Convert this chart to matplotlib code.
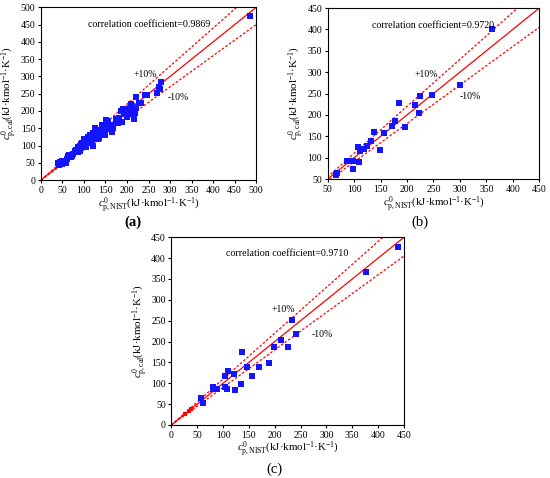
import matplotlib
matplotlib.use("Agg")
import matplotlib.pyplot as plt

plt.rcParams.update(
    {
        "font.family": "Liberation Serif",
        "mathtext.fontset": "custom",
        "mathtext.rm": "Liberation Serif",
        "mathtext.it": "Liberation Serif:italic",
        "mathtext.bf": "Liberation Serif:bold",
        "font.size": 7,
        "xtick.labelsize": 7,
        "ytick.labelsize": 7,
        "xtick.major.size": 2.5,
        "ytick.major.size": 2.5,
        "xtick.major.pad": 1.5,
        "ytick.major.pad": 1.5,
        "axes.linewidth": 0.8,
    }
)

# panel (a): NIST vs calculated
a_nist = [40, 42, 44, 46, 48, 50, 52, 55, 58, 60, 62, 65, 68, 70, 72, 75, 78, 80, 82, 84,
          85, 86, 88, 90, 90, 92, 94, 95, 96, 98, 100, 100, 102, 104, 105, 106, 108, 110, 112, 115,
          115, 118, 118, 120, 122, 124, 125, 126, 128, 130, 130, 132, 135, 135, 138, 140, 140, 142, 145, 145,
          148, 150, 150, 152, 155, 155, 158, 160, 160, 165, 165, 168, 175, 178, 180, 182, 185, 188, 190, 192,
          195, 198, 200, 202, 205, 208, 210, 212, 214, 216, 218, 220, 222, 228, 232, 243, 246, 270, 275, 276,
          278, 485]
a_cal = [48, 44, 52, 50, 46, 55, 54, 52, 48, 62, 70, 72, 66, 68, 70, 75, 85, 80, 88, 84,
         82, 95, 90, 100, 85, 92, 105, 108, 98, 102, 95, 118, 110, 96, 105, 120, 115, 125, 118, 130,
         112, 108, 122, 100, 135, 128, 118, 150, 125, 140, 128, 118, 132, 122, 145, 138, 132, 160, 150, 135,
         130, 142, 130, 175, 172, 158, 155, 148, 150, 140, 160, 150, 178, 172, 165, 180, 200, 168, 205, 195,
         190, 205, 182, 200, 190, 210, 220, 215, 205, 178, 195, 240, 210, 222, 222, 245, 245, 252, 270, 265,
         284, 475]

# panel (b)
b_nist = [360, 301, 248, 224, 216, 222, 184, 178, 171, 196, 157, 138, 132, 124, 119,
          108, 111, 148, 109, 86, 97, 97, 67, 65, 66]
b_cal = [401, 270, 247, 245, 222, 205, 227, 186, 175, 172, 157, 160, 139, 128, 120,
         125, 115, 117, 90, 92, 92, 74, 65, 60, 62]

# panel (c)
c_nist = [439, 376, 233, 242, 212, 198, 226, 188, 170, 146, 157, 137, 121, 110, 104,
          134, 123, 107, 104, 89, 81, 81, 57, 61]
c_cal = [426, 367, 252, 217, 203, 187, 187, 149, 138, 139, 117, 174, 122, 130, 118,
         99, 84, 86, 90, 87, 91, 87, 64, 52]
c_low_nist = [26, 34, 39]
c_low_cal = [26, 34, 38]

panels = [
    dict(rect=[0.0745, 0.6234, 0.391, 0.361], lim=(0, 500), step=50,
         x=a_nist, y=a_cal, r="0.9869", letter="a",
         corr=(0.219, 0.904), up=(0.428, 0.609), lo=(0.591, 0.481)),
    dict(rect=[0.5958, 0.6255, 0.3847, 0.3577], lim=(50, 450), step=50,
         x=b_nist, y=b_cal, r="0.9720", letter="b",
         corr=(0.208, 0.90), up=(0.408, 0.614), lo=(0.625, 0.481)),
    dict(rect=[0.3115, 0.1109, 0.423, 0.3927], lim=(0, 450), step=50,
         x=c_nist, y=c_cal, r="0.9710", letter="c",
         corr=(0.235, 0.911), up=(0.431, 0.613), lo=(0.603, 0.483)),
]

fig = plt.figure(figsize=(5.5, 4.78), dpi=100)

xlab = r"$c^{0}_{\mathrm{p,NIST}}$(kJ·kmol$^{-1}$·K$^{-1}$)"
ylab = r"$c^{0}_{\mathrm{p,cal}}$(kJ·kmol$^{-1}$·K$^{-1}$)"

for p in panels:
    ax = fig.add_axes(p["rect"])
    lo, hi = p["lim"]
    ref = [0, hi]
    ax.plot(ref, ref, color="#ff0000", lw=0.9)
    ax.plot(ref, [v * 1.1 for v in ref], color="#ff0000", lw=0.9, ls=(0, (2, 1.5)))
    ax.plot(ref, [v * 0.9 for v in ref], color="#ff0000", lw=0.9, ls=(0, (2, 1.5)))
    ax.scatter(p["x"], p["y"], marker="s", s=14, color="#1414ff", linewidths=0, zorder=3)
    if p["letter"] == "c":
        ax.scatter(c_low_nist, c_low_cal, marker="s", s=5, color="#ff0000", linewidths=0, zorder=3)
    ax.set_xlim(lo, hi)
    ax.set_ylim(lo, hi)
    ticks = list(range(lo, hi + 1, p["step"]))
    ax.set_xticks(ticks)
    ax.set_yticks(ticks)
    ax.set_xlabel(xlab, fontsize=7.8, labelpad=0)
    ax.set_ylabel(ylab, fontsize=7.8, labelpad=1)
    ax.text(*p["corr"], "correlation coefficient=" + p["r"], transform=ax.transAxes,
            fontsize=7.2, va="center", ha="left")
    ax.text(*p["up"], "+10%", transform=ax.transAxes, fontsize=7, va="center", ha="left")
    ax.text(*p["lo"], "-10%", transform=ax.transAxes, fontsize=7, va="center", ha="left")

fig.text(133 / 550, 1 - 222 / 478, "(a)", fontsize=10.5, fontweight="bold", ha="center", va="center")
fig.text(420 / 550, 1 - 222 / 478, "(b)", fontsize=10.5, ha="center", va="center")
fig.text(274 / 550, 1 - 469 / 478, "(c)", fontsize=10.5, ha="center", va="center")

fig.savefig("out.png", dpi=100)
